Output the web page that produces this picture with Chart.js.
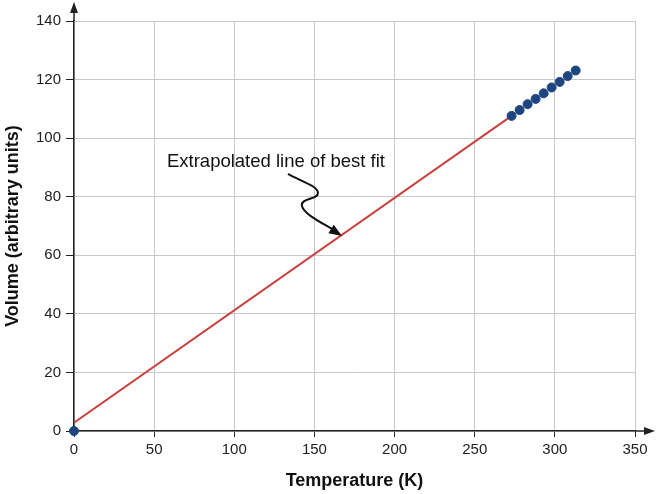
<!DOCTYPE html>
<html>
<head>
    <title>Volume vs Temperature</title>
    <script src="https://cdn.jsdelivr.net/npm/chart.js"></script>
    <style>
        html, body { margin: 0; padding: 0; background: #fff; }
        canvas { display: block; }
    </style>
</head>
<body>

<canvas id="chart" width="657" height="494"></canvas>

<script>
    // measured points (K, arbitrary volume units)
    const tempK = [273, 278, 283, 288, 293, 298, 303, 308, 313];
    const volume = [107.6, 109.6, 111.6, 113.4, 115.3, 117.3, 119.2, 121.2, 123.1];

    // extrapolated point at absolute zero
    const zeroT = [0];
    const zeroV = [0];

    // best fit line, drawn back to 0 K
    const fitT = [0, 273];
    const fitV = [2.8, 107.6];

    const xMin = 0, xMax = 350, xStep = 50;
    const yMin = 0, yMax = 140, yStep = 20;

    const noteText = 'Extrapolated line of best fit';

    function toPoints(xs, ys) {
        return xs.map((x, i) => ({ x: x, y: ys[i] }));
    }

    // arrow heads on the ends of both axes
    const axisArrows = {
        id: 'axisArrows',
        afterDraw(chart) {
            const ctx = chart.ctx;
            const a = chart.chartArea;
            ctx.save();
            ctx.strokeStyle = '#222';
            ctx.fillStyle = '#222';
            ctx.lineWidth = 1.5;

            ctx.beginPath();
            ctx.moveTo(a.right, a.bottom);
            ctx.lineTo(a.right + 12, a.bottom);
            ctx.moveTo(a.left, a.top);
            ctx.lineTo(a.left, a.top - 10);
            ctx.stroke();

            ctx.beginPath();
            ctx.moveTo(a.right + 20, a.bottom);
            ctx.lineTo(a.right + 9, a.bottom - 4);
            ctx.lineTo(a.right + 9, a.bottom + 4);
            ctx.closePath();
            ctx.fill();

            ctx.beginPath();
            ctx.moveTo(a.left, a.top - 19);
            ctx.lineTo(a.left - 4, a.top - 8);
            ctx.lineTo(a.left + 4, a.top - 8);
            ctx.closePath();
            ctx.fill();
            ctx.restore();
        }
    };

    // label with the wavy arrow pointing at the line
    const note = {
        id: 'note',
        afterDatasetsDraw(chart) {
            const ctx = chart.ctx;
            const sx = chart.scales.x, sy = chart.scales.y;
            const p = (x, y) => [sx.getPixelForValue(x), sy.getPixelForValue(y)];
            ctx.save();
            ctx.font = '18.5px "Liberation Sans", Arial, sans-serif';
            ctx.fillStyle = '#111';
            ctx.textAlign = 'center';
            ctx.textBaseline = 'middle';
            const t = p(126, 92);
            ctx.fillText(noteText, t[0], t[1]);

            const s = p(133.5, 87.8);
            const c = [
                [p(141, 85.4), p(152.2, 83.7), p(152.2, 81.3)],
                [p(152.2, 78.9), p(141, 79.6), p(142.2, 76.8)],
                [p(143.5, 74.1), p(153.5, 71.4), p(161, 69.0)]
            ];
            ctx.strokeStyle = '#111';
            ctx.lineWidth = 2;
            ctx.beginPath();
            ctx.moveTo(s[0], s[1]);
            c.forEach(q => ctx.bezierCurveTo(q[0][0], q[0][1], q[1][0], q[1][1], q[2][0], q[2][1]));
            ctx.stroke();

            const tip = p(167.2, 66.6);
            const from = c[2][1];
            const ang = Math.atan2(tip[1] - from[1], tip[0] - from[0]);
            const len = 13, half = 5;
            ctx.fillStyle = '#111';
            ctx.beginPath();
            ctx.moveTo(tip[0], tip[1]);
            ctx.lineTo(tip[0] - len * Math.cos(ang) + half * Math.sin(ang),
                       tip[1] - len * Math.sin(ang) - half * Math.cos(ang));
            ctx.lineTo(tip[0] - len * Math.cos(ang) - half * Math.sin(ang),
                       tip[1] - len * Math.sin(ang) + half * Math.cos(ang));
            ctx.closePath();
            ctx.fill();
            ctx.restore();
        }
    };

    const tickFont = { family: '"Liberation Sans", Arial, sans-serif', size: 15 };
    const titleFont = { family: '"Liberation Sans", Arial, sans-serif', size: 18, weight: 'bold' };

    new Chart(document.getElementById('chart'), {
        type: 'scatter',
        data: {
            datasets: [{
                data: toPoints(tempK, volume).concat(toPoints(zeroT, zeroV)),
                backgroundColor: '#1d4580',
                borderColor: '#1d4580',
                pointRadius: 4.5,
                clip: false
            }, {
                data: toPoints(fitT, fitV),
                showLine: true,
                borderColor: '#c9423f',
                borderWidth: 2,
                pointRadius: 0
            }]
        },
        options: {
            responsive: false,
            animation: false,
            layout: { padding: { top: 21, right: 22, left: 0, bottom: 0 } },
            plugins: {
                legend: { display: false },
                tooltip: { enabled: false }
            },
            scales: {
                x: {
                    type: 'linear',
                    min: xMin,
                    max: xMax,
                    ticks: { stepSize: xStep, font: tickFont, color: '#222', padding: 4 },
                    grid: { color: '#c8c8c8', tickColor: '#222', tickLength: 6 },
                    border: { color: '#222', width: 1.5 },
                    title: {
                        display: true, text: 'Temperature (K)', font: titleFont, color: '#111',
                        padding: { top: 4, bottom: 2 }
                    },
                    afterFit(scale) { scale.height = 63; }
                },
                y: {
                    min: yMin,
                    max: yMax,
                    ticks: { stepSize: yStep, font: tickFont, color: '#222', padding: 5 },
                    grid: { color: '#c8c8c8', tickColor: '#222', tickLength: 8 },
                    border: { color: '#222', width: 1.5 },
                    title: {
                        display: true, text: 'Volume (arbitrary units)', font: titleFont, color: '#111',
                        padding: { top: 2, bottom: 4 }
                    },
                    afterFit(scale) { scale.width = 74; }
                }
            }
        },
        plugins: [axisArrows, note]
    });
</script>

</body>
</html>
